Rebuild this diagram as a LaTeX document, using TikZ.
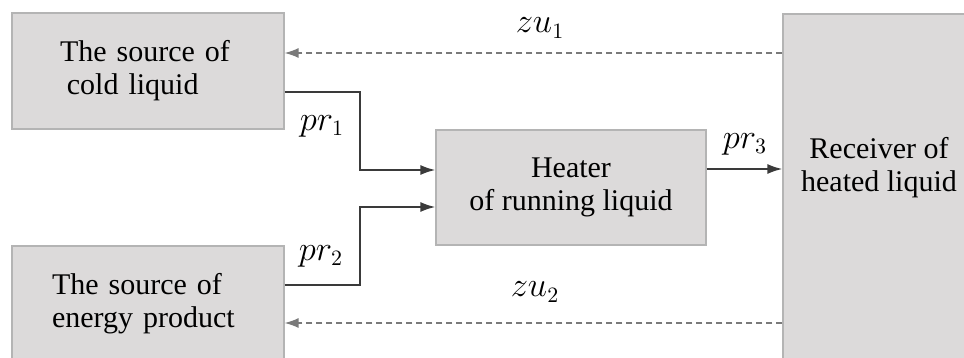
\documentclass[tikz,border=0pt]{standalone}
\usepackage{fontspec}
\setmainfont{Liberation Serif}
\newfontfamily\boxfont{Liberation Serif}
\usepackage{tikz}
\usetikzlibrary{arrows.meta}

\definecolor{boxgray}{HTML}{DCDADA}
\definecolor{edgegray}{HTML}{B4B4B4}
\definecolor{linegray}{HTML}{3A3A3A}
\definecolor{dashgray}{HTML}{7A7A7A}

\tikzset{
  unit/.style={draw=edgegray, fill=boxgray, line width=0.6pt, inner sep=2pt},
  flow/.style={draw=linegray, line width=0.9pt, -{Latex[length=7.5pt,width=5pt]}},
  back/.style={draw=dashgray, line width=0.7pt, dash pattern=on 3pt off 2pt, -{Latex[length=7pt,width=5pt]}},
  lab/.style={font=\fontsize{16}{18}\selectfont}
}

\begin{document}
\begin{tikzpicture}[every node/.style={font=\boxfont\fontsize{15}{16.5}\selectfont}, x=0.5pt, y=-0.5pt]
	\useasboundingbox (0,0) rectangle (964,358);
	\node[unit, minimum width=136pt, minimum height=58pt, text width=88pt, align=left] (cold) at (148,71) {The source of\\\hspace*{0.23em}cold liquid};
	\node[unit, minimum width=136pt, minimum height=58pt, text width=96pt, align=left] (energy) at (148,304) {The source of\\energy product};
	\node[unit, minimum width=135pt, minimum height=57.5pt, align=center] (heater) at (571,187.5) {Heater\\of running liquid};
	\node[unit, minimum width=91.5pt, minimum height=174pt] (recv) at (874.5,188) {};
	\node[align=center] (recvtext) at (879,168) {Receiver of\\heated liquid};
	\draw[back] (recv.west |- 0,53) -- (cold.east |- 0,53);
	\draw[back] (recv.west |- 0,323) -- (energy.east |- 0,323);
	\draw[flow] (cold.east |- 0,92) -| (360,170) -- (heater.west |- 0,170);
	\draw[flow] (energy.east |- 0,285) -| (360,207) -- (heater.west |- 0,207);
	\draw[flow] (heater.east |- 0,169) -- (recv.west |- 0,169);
	\node[lab] (lpr1) at (322,126) {$pr_1$};
	\node[lab] (lpr2) at (321,256) {$pr_2$};
	\node[lab] (lpr3) at (745,144) {$pr_3$};
	\node[lab] (lzu1) at (540,28) {$zu_1$};
	\node[lab] (lzu2) at (535,292) {$zu_2$};
\end{tikzpicture}
\end{document}
